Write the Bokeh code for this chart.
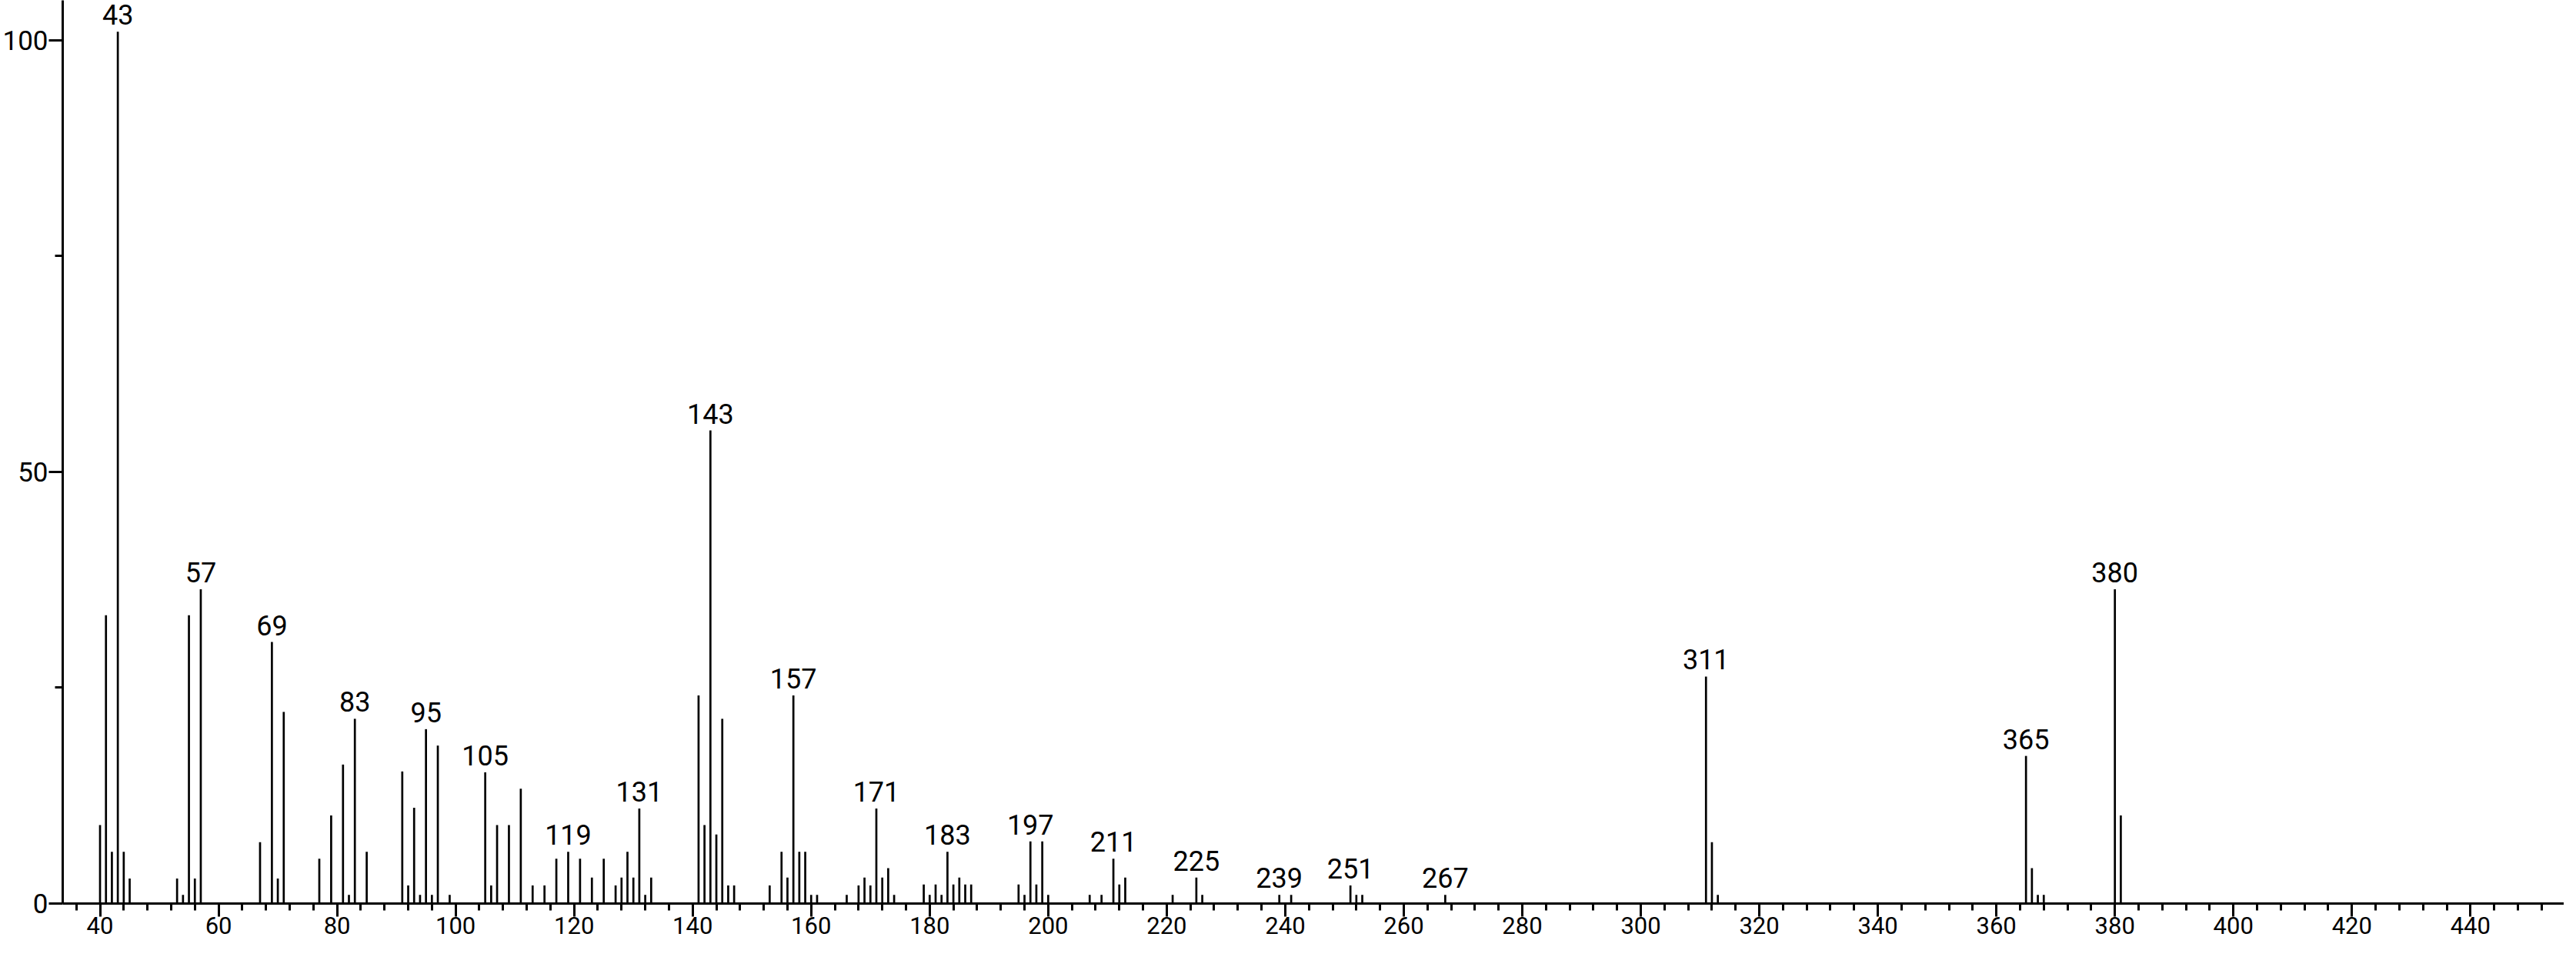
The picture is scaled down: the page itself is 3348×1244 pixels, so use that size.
from bokeh.plotting import figure
from bokeh.models import FixedTicker, Range1d, ColumnDataSource
from bokeh.core.properties import value
from bokeh.embed import file_html
from bokeh.resources import INLINE

# m/z values and relative intensities
mz = [40, 41, 42, 43, 44, 45, 53, 54, 55, 56, 57, 67, 69, 70, 71, 77, 79, 81, 82, 83,
      85, 91, 92, 93, 94, 95, 96, 97, 99, 105, 106, 107, 109, 111, 113, 115, 117, 119,
      121, 123, 125, 127, 128, 129, 130, 131, 132, 133, 141, 142, 143, 144, 145, 146,
      147, 153, 155, 156, 157, 158, 159, 160, 161, 166, 168, 169, 170, 171, 172, 173,
      174, 179, 180, 181, 182, 183, 184, 185, 186, 187, 195, 196, 197, 198, 199, 200,
      207, 209, 211, 212, 213, 221, 225, 226, 239, 241, 251, 252, 253, 267, 311, 312,
      313, 365, 366, 367, 368, 380, 381]
intensity = [9.1, 33.4, 6.0, 101.0, 6.0, 2.9, 2.9, 1.0, 33.4, 2.9, 36.4, 7.1, 30.3, 2.9, 22.2,
             5.2, 10.2, 16.1, 1.0, 21.4, 6.0, 15.3, 2.1, 11.1, 1.0, 20.2, 1.0, 18.3, 1.0,
             15.2, 2.1, 9.1, 9.1, 13.3, 2.1, 2.1, 5.2, 6.0, 5.2, 3.0, 5.2, 2.1, 3.0, 6.0,
             3.0, 11.0, 1.0, 3.0, 24.1, 9.1, 54.8, 8.0, 21.4, 2.1, 2.1, 2.1, 6.0, 3.0,
             24.1, 6.0, 6.0, 1.0, 1.0, 1.0, 2.1, 3.0, 2.1, 11.0, 3.0, 4.1, 1.0, 2.2, 1.0,
             2.2, 1.0, 6.0, 2.2, 3.0, 2.2, 2.2, 2.2, 1.0, 7.2, 2.2, 7.2, 1.0, 1.0, 1.0,
             5.2, 2.2, 3.0, 1.0, 3.0, 1.0, 1.0, 1.0, 2.1, 1.0, 1.0, 1.0, 26.3, 7.1, 1.0,
             17.1, 4.1, 1.0, 1.0, 36.4, 10.2]
labelled = [43, 57, 69, 83, 95, 105, 119, 131, 143, 157, 171, 183, 197, 211, 225, 239,
            251, 267, 311, 365, 380]
x_ticks = list(range(40, 441, 20))
x_minor = list(range(36, 457, 4))
y_ticks = [0, 50, 100]
y_minor = [25, 75]

W, H = 3332, 1228
BOTTOM = 54
Y_TOP = 104.63
FRAME_H = H - BOTTOM
GAP_PX = 22
gap = GAP_PX * Y_TOP / FRAME_H

lookup = dict(zip(mz, intensity))
lab_src = ColumnDataSource(dict(x=labelled, y=[lookup[m] + gap for m in labelled],
                                t=[str(m) for m in labelled]))
src = ColumnDataSource(dict(x=mz, y=intensity, y0=[0] * len(mz)))

FONT = "Roboto"
p = figure(width=W, height=H, output_backend="svg", toolbar_location=None,
           x_range=Range1d(33.70, 455.8), y_range=Range1d(0, Y_TOP),
           min_border_left=78, min_border_right=0, min_border_top=0,
           min_border_bottom=BOTTOM)
p.outline_line_color = None
p.grid.visible = False
p.background_fill_color = "white"

p.segment(x0="x", y0="y0", x1="x", y1="y", source=src, line_color="black",
          line_width=2.7, line_cap="butt")
p.text(x="x", y="y", text="t", source=lab_src, text_align="center",
       text_baseline="alphabetic", text_font=value(FONT),
       text_font_size="36px", text_color="black")

p.xaxis.ticker = FixedTicker(ticks=x_ticks, minor_ticks=x_minor)
p.yaxis.ticker = FixedTicker(ticks=y_ticks, minor_ticks=y_minor)
for ax in (p.xaxis, p.yaxis):
    ax.axis_line_width = 3
    ax.axis_line_color = "black"
    ax.major_tick_line_width = 3
    ax.minor_tick_line_width = 3
    ax.major_tick_line_color = "black"
    ax.minor_tick_line_color = "black"
    ax.major_tick_in = 0
    ax.minor_tick_in = 0
    ax.major_label_text_font = FONT
    ax.major_label_text_color = "black"
p.xaxis.major_tick_out = 17
p.xaxis.minor_tick_out = 9
p.xaxis.major_label_text_font_size = "31px"
p.xaxis.major_label_standoff = 0
p.yaxis.major_tick_out = 18
p.yaxis.minor_tick_out = 10
p.yaxis.major_label_text_font_size = "35px"
p.yaxis.major_label_standoff = 1

open("out.html", "w").write(file_html(p, INLINE))
